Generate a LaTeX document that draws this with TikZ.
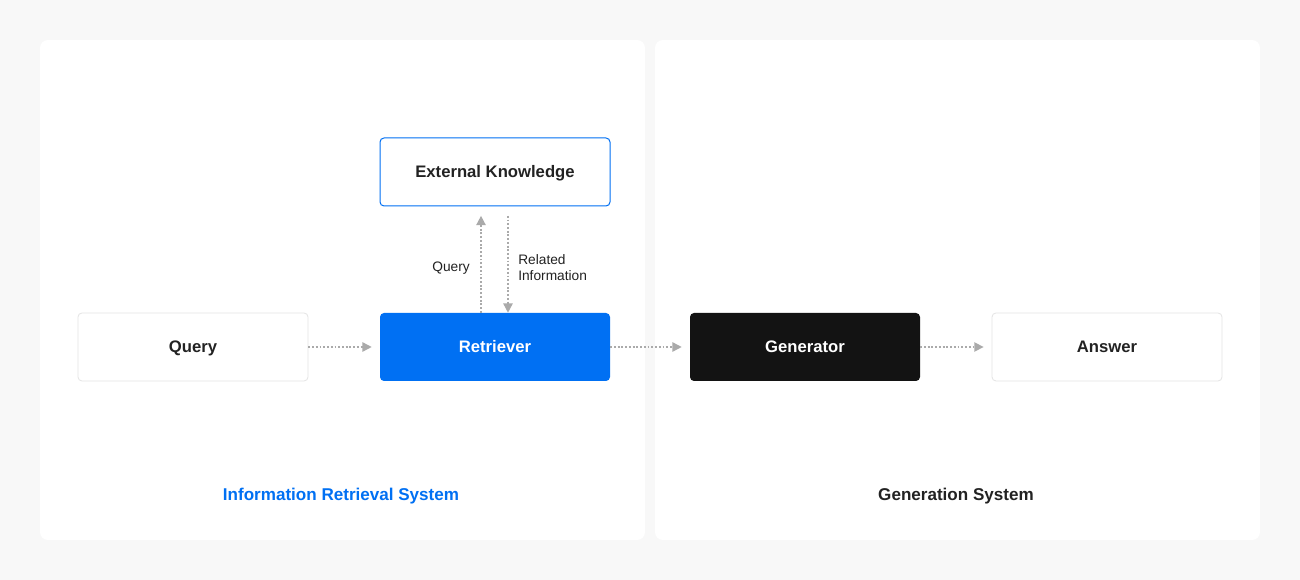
\documentclass[tikz,border=0pt]{standalone}
\usepackage{fontspec}
\setmainfont{Liberation Sans}
\usetikzlibrary{arrows.meta,calc}
\definecolor{bgc}{HTML}{F8F8F8}
\definecolor{blu}{HTML}{0070F3}
\definecolor{blk}{HTML}{131313}
\definecolor{brd}{HTML}{E4E4E4}
\definecolor{arr}{HTML}{AAAAAA}
\definecolor{txt}{HTML}{222222}
\tikzset{
  panel/.style={fill=white, draw=none, rounded corners=6pt},
  box/.style={minimum width=172.5pt, minimum height=51pt, rounded corners=3pt, inner sep=0pt, text height=9pt, text depth=0pt, font=\fontsize{12.5}{15}\selectfont\bfseries},
  whitebox/.style={box, fill=white, draw=brd, line width=0.6pt, text=txt},
  extbox/.style={box, fill=white, draw=blu, line width=0.75pt, text=txt},
  bluebox/.style={box, fill=blu, text=white},
  blackbox/.style={box, fill=blk, text=white},
  flow/.style={draw=arr, line width=1.1pt, dash pattern=on 1.4pt off 1.4pt, -{Triangle[length=7pt,width=7pt,fill=arr]}},
  small/.style={font=\fontsize{10.3}{11.5}\selectfont, text=txt, inner sep=0pt},
  section/.style={font=\fontsize{12.8}{15}\selectfont\bfseries, inner sep=0pt}
}
\begin{document}
\begin{tikzpicture}[x=0.75pt,y=-0.75pt]
\fill[bgc] (0,0) rectangle (1300,580);
\useasboundingbox (0,0) rectangle (1300,580);
\path[panel] (40,40) rectangle (645,540);
\path[panel] (655,40) rectangle (1260,540);
\node[extbox] (ext) at (495,172) {External Knowledge};
\node[whitebox] (query) at (193,347) {Query};
\node[bluebox] (ret) at (495,347) {Retriever};
\node[blackbox] (gen) at (805,347) {Generator};
\node[whitebox] (ans) at (1107,347) {Answer};
\draw[flow, shorten >=6pt] (query) -- (ret);
\draw[flow, shorten >=6pt] (ret) -- (gen);
\draw[flow, shorten >=6pt] (gen) -- (ans);
\coordinate (upS) at ($(ret.north)+(-14,0)$);
\coordinate (upE) at ($(ext.south)+(-14,0)$);
\coordinate (dnS) at ($(ext.south)+(13,0)$);
\coordinate (dnE) at ($(ret.north)+(13,0)$);
\draw[flow, shorten >=7pt] (upS) -- (upE);
\draw[flow, shorten <=7pt] (dnS) -- (dnE);
\node[small, anchor=east] (lq) at (470,268.5) {Query};
\node[small, anchor=west, align=left] (lr) at (518,267.5) {Related\\Information};
\node[section, text=blu] (irs) at (341,496.5) {Information Retrieval System};
\node[section, text=txt] (gs) at (956,496.5) {Generation System};
\end{tikzpicture}
\end{document}
